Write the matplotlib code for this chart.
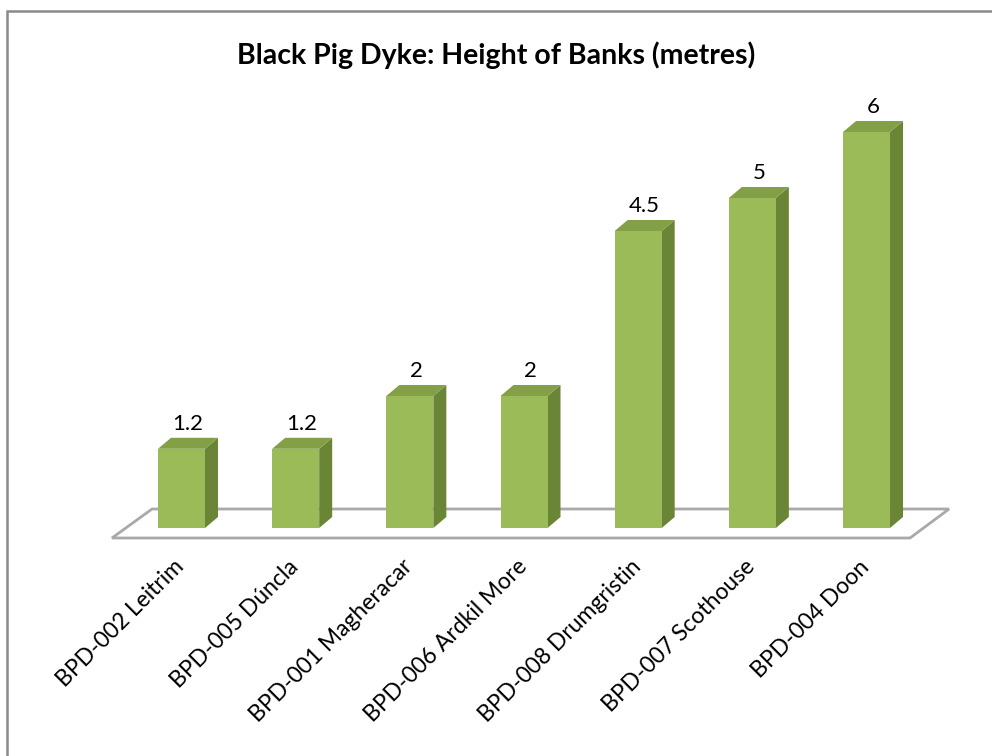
import matplotlib
matplotlib.use("Agg")
import matplotlib.pyplot as plt
from matplotlib.patches import Polygon, Rectangle

categories = ["BPD-002 Leitrim", "BPD-005 Dúncla", "BPD-001 Magheracar",
              "BPD-006 Ardkil More", "BPD-008 Drumgristin", "BPD-007 Scothouse",
              "BPD-004 Doon"]
heights = [1.2, 1.2, 2, 2, 4.5, 5, 6]
value_labels = ["1.2", "1.2", "2", "2", "4.5", "5", "6"]
title = "Black Pig Dyke: Height of Banks (metres)"

FRONT = "#9BBB59"
SIDE = "#6B8537"
TOP = "#83A046"
FLOOR = "#A9A9A9"

W, H = 992, 756
fig = plt.figure(figsize=(W / 100, H / 100), dpi=100)
ax = fig.add_axes([0, 0, 1, 1])
# pixel mapping: category i center at 181.5 + 114.17*i ; value v at 528 - 66*v (from top)
sx, sy = 114.17, 66.0
ax.set_xlim(-181.5 / sx, (W - 181.5) / sx)
ax.set_ylim(-(H - 528) / sy, 528 / sy)
ax.axis("off")

# border
fig.patches.append(Rectangle((7 / W, -0.1), 1.2, 1 - 11 / H + 0.1, transform=fig.transFigure,
                             fill=False, edgecolor="#8A8A8A", linewidth=1.8))

# depth offsets (data units)
ddx, ddy = 13 / sx, 11 / sy
bw = 47 / sx

# floor
fy0, fy1 = -10 / sy, 19 / sy
fl = [(-0.609, fy0), (6.381, fy0), (6.723, fy1), (-0.258, fy1)]
ax.add_patch(Polygon(fl, closed=True, fill=False, edgecolor=FLOOR, linewidth=2.0,
                     joinstyle="miter", zorder=1))

for i, h in enumerate(heights):
    x0, x1 = i - bw / 2, i + bw / 2
    front = [(x0, 0), (x1, 0), (x1, h), (x0, h)]
    side = [(x1, 0), (x1 + ddx, ddy), (x1 + ddx, h + ddy), (x1, h)]
    top = [(x0, h), (x1, h), (x1 + ddx, h + ddy), (x0 + ddx, h + ddy)]
    ax.add_patch(Polygon(side, closed=True, facecolor=SIDE, edgecolor="none", zorder=2 + i))
    ax.add_patch(Polygon(top, closed=True, facecolor=TOP, edgecolor="none", zorder=2 + i))
    ax.add_patch(Polygon(front, closed=True, facecolor=FRONT, edgecolor="none", zorder=2 + i))
    ax.annotate(value_labels[i], (i + ddx / 2, h + ddy), xytext=(0, 3), textcoords="offset points",
                ha="center", va="bottom", fontsize=16, family="Lato", color="black")
    ax.text(i - 8 / sx, -28 / sy, categories[i], rotation=45, rotation_mode="anchor",
            ha="right", va="top", fontsize=16.5, family="Lato", color="black")

fig.text(496 / W, 1 - 55 / H, title, ha="center", va="center", fontsize=20.5,
         family="Lato", fontweight="bold", color="black")

fig.savefig("out.png", dpi=100, facecolor="white")
